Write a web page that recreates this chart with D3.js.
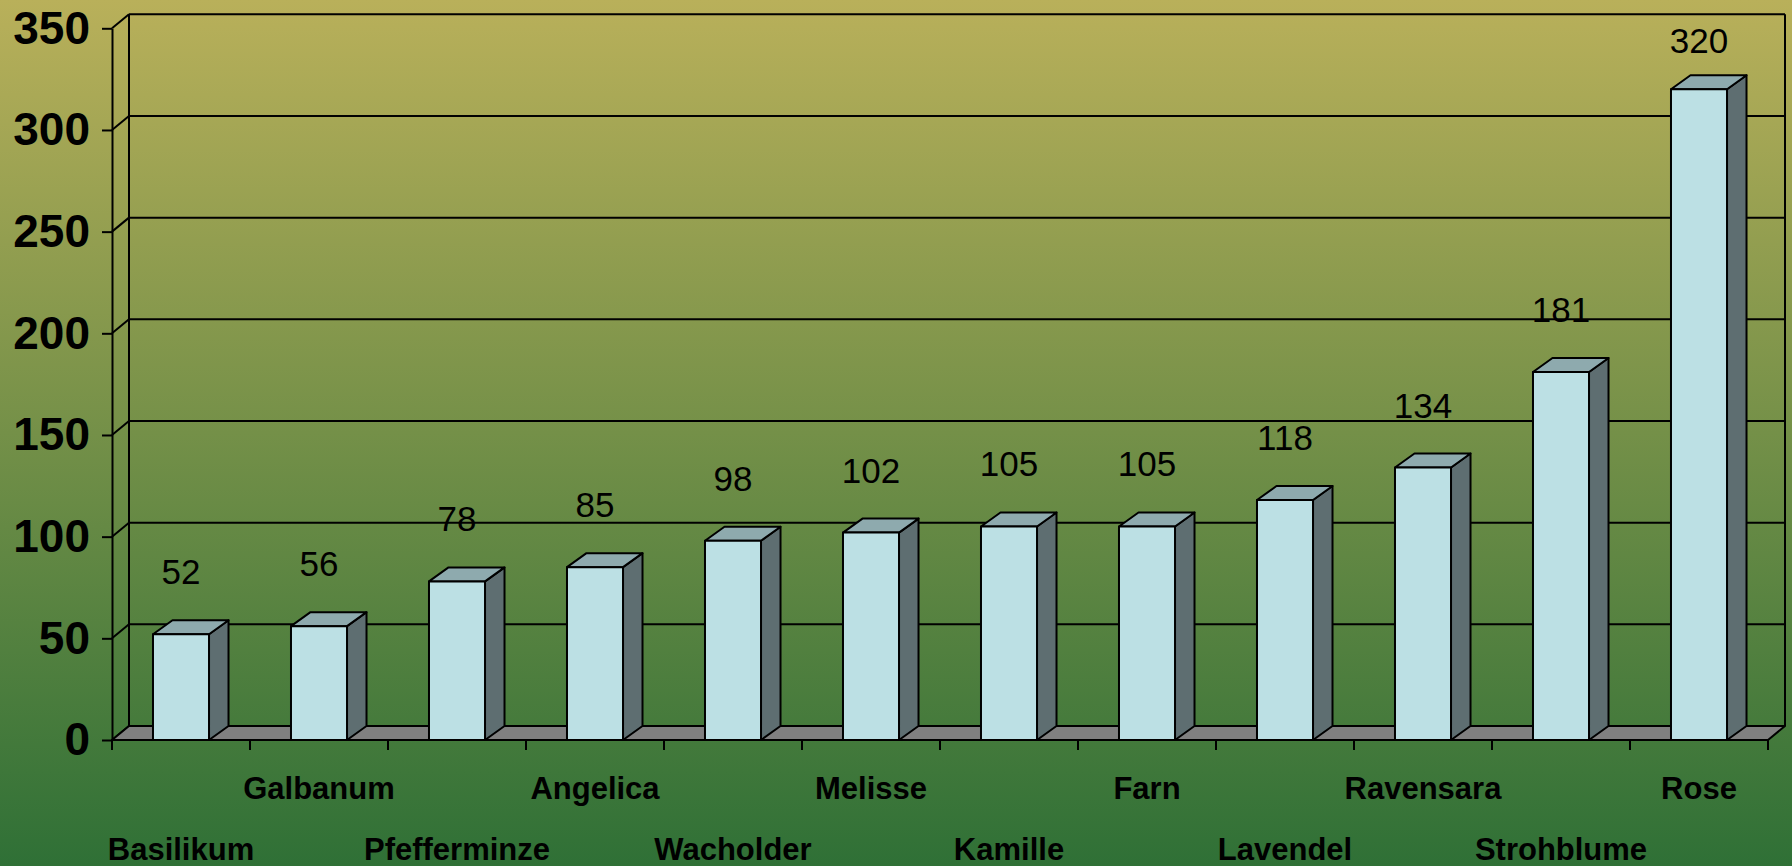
<!DOCTYPE html>
<html>
<head>
<meta charset="utf-8">
<script src="https://cdn.jsdelivr.net/npm/d3@7"></script>
<style>
  html, body { margin: 0; padding: 0; overflow: hidden; }
  body { width: 1792px; height: 866px; }
  text { font-family: "Liberation Sans", Arial, sans-serif; }
</style>
</head>
<body>
<div id="chart"></div>
<script>
// data +++++++++++++++++++++++++++++++++++++++++
const categories = ["Basilikum", "Galbanum", "Pfefferminze", "Angelica", "Wacholder", "Melisse",
  "Kamille", "Farn", "Lavendel", "Ravensara", "Strohblume", "Rose"];
const values = [52, 56, 78, 85, 98, 102, 105, 105, 118, 134, 181, 320];
const yTicks = [0, 50, 100, 150, 200, 250, 300, 350];
// data -----------------------------------------

const width = 1792;
const height = 866;

// 3d offsets (wall depth and bar depth)
const wallDx = 17, wallDy = 14;
const barDx = 19.5, barDy = 14;

const svg = d3.select("#chart")
  .append("svg")
  .attr("width", width)
  .attr("height", height);

// background gradient
const grad = svg.append("defs").append("linearGradient")
  .attr("id", "bg")
  .attr("x1", 0).attr("y1", 0).attr("x2", 0).attr("y2", 1);
grad.append("stop").attr("offset", "0%").attr("stop-color", "#b9b05a");
grad.append("stop").attr("offset", "100%").attr("stop-color", "#2f7036");

svg.append("rect")
  .attr("width", width)
  .attr("height", height)
  .attr("fill", "url(#bg)");

// scales
const x = d3.scaleBand()
  .domain(categories)
  .range([112, 1768])
  .paddingInner(0)
  .paddingOuter(0);

const y = d3.scaleLinear()
  .domain([0, 350])
  .range([740, 28.3]);

const left = x.range()[0];
const right = x.range()[1];

// back wall gridlines
const wall = svg.append("g").attr("class", "wall")
  .attr("stroke", "#000")
  .attr("stroke-width", 2)
  .attr("fill", "none");

wall.selectAll("line.grid")
  .data(yTicks)
  .enter()
  .append("line")
  .attr("class", "grid")
  .attr("x1", left + wallDx)
  .attr("x2", right + wallDx)
  .attr("y1", d => y(d) - wallDy)
  .attr("y2", d => y(d) - wallDy);

// side wall connectors
wall.selectAll("line.conn")
  .data(yTicks)
  .enter()
  .append("line")
  .attr("class", "conn")
  .attr("x1", left)
  .attr("x2", left + wallDx)
  .attr("y1", d => y(d))
  .attr("y2", d => y(d) - wallDy);

// back verticals
wall.append("line")
  .attr("x1", left + wallDx).attr("x2", left + wallDx)
  .attr("y1", y(350) - wallDy).attr("y2", y(0) - wallDy);
wall.append("line")
  .attr("x1", right + wallDx).attr("x2", right + wallDx)
  .attr("y1", y(350) - wallDy).attr("y2", y(0) - wallDy);

// floor
svg.append("path")
  .attr("d", `M${left},${y(0)} L${right},${y(0)} L${right + wallDx},${y(0) - wallDy} L${left + wallDx},${y(0) - wallDy} Z`)
  .attr("fill", "#808080")
  .attr("stroke", "#000")
  .attr("stroke-width", 2)
  .attr("stroke-linejoin", "round");

// bars
const barW = x.bandwidth() * 0.406;
const bars = svg.append("g").attr("class", "bars")
  .attr("stroke", "#000")
  .attr("stroke-width", 2)
  .attr("stroke-linejoin", "round");

const barData = categories.map((c, i) => ({ c, v: values[i] }));

const barG = bars.selectAll("g")
  .data(barData)
  .enter()
  .append("g");

// side
barG.append("path")
  .attr("d", d => {
    const x1 = x(d.c) + x.bandwidth() / 2 + barW / 2;
    return `M${x1},${y(0)} L${x1 + barDx},${y(0) - barDy} L${x1 + barDx},${y(d.v) - barDy} L${x1},${y(d.v)} Z`;
  })
  .attr("fill", "#5e6e71");

// top
barG.append("path")
  .attr("d", d => {
    const x0 = x(d.c) + x.bandwidth() / 2 - barW / 2;
    const x1 = x0 + barW;
    const t = y(d.v);
    return `M${x0},${t} L${x0 + barDx},${t - barDy} L${x1 + barDx},${t - barDy} L${x1},${t} Z`;
  })
  .attr("fill", "#8eaaae");

// front
barG.append("rect")
  .attr("x", d => x(d.c) + x.bandwidth() / 2 - barW / 2)
  .attr("y", d => y(d.v))
  .attr("width", barW)
  .attr("height", d => y(0) - y(d.v))
  .attr("fill", "#bce0e4");

// value labels
svg.append("g").attr("class", "values")
  .selectAll("text")
  .data(barData)
  .enter()
  .append("text")
  .attr("x", d => x(d.c) + x.bandwidth() / 2)
  .attr("y", d => Math.max(y(d.v) - 50, 53))
  .attr("text-anchor", "middle")
  .attr("font-size", "35px")
  .attr("fill", "#000")
  .text(d => d.v);

// y axis (front)
const yAxis = d3.axisLeft(y)
  .tickValues(yTicks)
  .tickSize(10)
  .tickSizeOuter(0)
  .tickPadding(12);

const yG = svg.append("g")
  .attr("transform", `translate(${left},0)`)
  .call(yAxis);

yG.select(".domain").attr("stroke", "#000").attr("stroke-width", 2);
yG.selectAll(".tick line").attr("stroke", "#000").attr("stroke-width", 2);
yG.selectAll(".tick text")
  .attr("font-family", "'Liberation Sans', Arial, sans-serif")
  .attr("font-size", "46px")
  .attr("font-weight", "bold")
  .attr("fill", "#000");

// x axis ticks at category boundaries
const bounds = d3.range(categories.length + 1).map(i => left + i * x.step());
svg.append("g").attr("class", "xticks")
  .selectAll("line")
  .data(bounds)
  .enter()
  .append("line")
  .attr("x1", d => d).attr("x2", d => d)
  .attr("y1", y(0)).attr("y2", y(0) + 10)
  .attr("stroke", "#000")
  .attr("stroke-width", 2);

// category labels, staggered in two rows
svg.append("g").attr("class", "xlabels")
  .selectAll("text")
  .data(categories)
  .enter()
  .append("text")
  .attr("x", d => x(d) + x.bandwidth() / 2)
  .attr("y", (d, i) => i % 2 === 1 ? 799 : 860)
  .attr("text-anchor", "middle")
  .attr("font-size", "31px")
  .attr("font-weight", "bold")
  .attr("fill", "#000")
  .text(d => d);
</script>
</body>
</html>
